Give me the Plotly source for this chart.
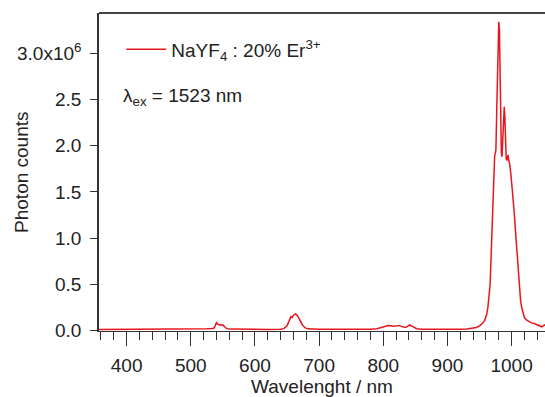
import plotly.graph_objects as go

# Emission spectrum of NaYF4 : 20% Er3+ under 1523 nm excitation
wavelength_nm = [
    355, 380, 400, 420, 450, 480, 500, 515, 525, 532, 536, 538, 540, 542, 544,
    546, 548, 550, 552, 555, 560, 580, 620, 640, 645, 650, 654, 656, 658, 660,
    663, 665, 668, 671, 674, 678, 682, 700, 750, 780, 790, 797, 803, 808, 812,
    817, 821, 825, 829, 834, 838, 841, 844, 848, 852, 860, 880, 900, 920, 930,
    940, 945, 950, 955, 958, 961, 963, 965, 966.5, 967.5, 968.5, 969.5, 970.5,
    971.5, 972.5, 973.5, 974.5, 975.5, 977, 978.5, 980, 981, 982, 983, 984, 985,
    986, 987.5, 988.5, 989.5, 990.5, 991.5, 992.5, 993.5, 994.5, 995.5, 997,
    999, 1000.5, 1002, 1004, 1006, 1008, 1010, 1012, 1014, 1016, 1018, 1020,
    1023, 1026, 1030, 1035, 1040, 1044, 1047, 1049, 1051, 1053,
]
photon_counts_1e6 = [
    0.010, 0.011, 0.010, 0.011, 0.010, 0.011, 0.012, 0.014, 0.018, 0.022,
    0.025, 0.050, 0.085, 0.070, 0.060, 0.065, 0.055, 0.060, 0.045, 0.025,
    0.015, 0.012, 0.012, 0.014, 0.020, 0.050, 0.110, 0.150, 0.140, 0.165,
    0.180, 0.170, 0.140, 0.100, 0.060, 0.030, 0.018, 0.013, 0.012, 0.014,
    0.020, 0.035, 0.050, 0.055, 0.052, 0.045, 0.050, 0.055, 0.042, 0.032,
    0.045, 0.060, 0.050, 0.030, 0.020, 0.014, 0.012, 0.012, 0.014, 0.017,
    0.025, 0.032, 0.050, 0.080, 0.110, 0.170, 0.250, 0.360, 0.500, 0.700,
    0.920, 1.150, 1.380, 1.580, 1.750, 1.880, 1.920, 1.950, 2.450, 3.000,
    3.340, 3.250, 2.700, 2.200, 1.920, 1.880, 2.050, 2.350, 2.420, 2.300,
    2.000, 1.860, 1.840, 1.880, 1.900, 1.840, 1.800, 1.680, 1.580, 1.450,
    1.280, 1.080, 0.880, 0.660, 0.460, 0.320, 0.240, 0.180, 0.140, 0.115,
    0.100, 0.085, 0.075, 0.060, 0.045, 0.040, 0.050, 0.060, 0.050,
]
photon_counts = [v * 1e6 for v in photon_counts_1e6]

y_tick_values = [0.0, 0.5e6, 1.0e6, 1.5e6, 2.0e6, 2.5e6, 3.0e6]
y_tick_labels = ["0.0", "0.5", "1.0", "1.5", "2.0", "2.5", "3.0x10<sup>6</sup>"]
x_tick_values = [400, 500, 600, 700, 800, 900, 1000]

FONT = "Liberation Sans, Arial, sans-serif"
AXIS = "#333333"
FS = 19

fig = go.Figure()
fig.add_trace(go.Scatter(
    x=wavelength_nm, y=photon_counts, mode="lines",
    line=dict(color="#e8161c", width=1.5),
    name="NaYF<sub>4</sub> : 20% Er<sup>3+</sup>",
))

fig.update_layout(
    width=545, height=397,
    margin=dict(l=99, r=0, t=13, b=66),
    paper_bgcolor="white", plot_bgcolor="white",
    font=dict(family=FONT, size=FS, color="#222222"),
    showlegend=True,
    legend=dict(x=0.05, y=0.945, xanchor="left", yanchor="top",
                itemwidth=40, bgcolor="rgba(0,0,0,0)", font=dict(size=FS)),
    xaxis=dict(
        range=[357, 1052], showgrid=False, zeroline=False,
        showline=True, linecolor=AXIS, linewidth=1,
        tickvals=x_tick_values, ticks="outside", ticklen=14, tickwidth=1.2,
        tickcolor=AXIS, ticklabelstandoff=3,
        minor=dict(dtick=20, tick0=0, ticks="outside", ticklen=8,
                   tickwidth=1.2, tickcolor=AXIS),
        title=dict(text="Wavelenght / nm", standoff=2, font=dict(size=FS)),
    ),
    yaxis=dict(
        range=[-0.0054e6, 3.436e6], showgrid=False, zeroline=False,
        showline=True, linecolor=AXIS, linewidth=1.5,
        tickvals=y_tick_values, ticktext=y_tick_labels,
        ticks="outside", ticklen=7, tickwidth=1.2, tickcolor=AXIS,
        ticklabelstandoff=5,
    ),
    shapes=[dict(type="line", xref="paper", yref="paper", x0=0, x1=1,
                 y0=1, y1=1, line=dict(color="#444444", width=2))],
    annotations=[
        dict(text="Photon counts", textangle=-90, xref="paper", yref="paper",
             x=-0.175, y=0.5, showarrow=False, xanchor="center",
             yanchor="middle", font=dict(size=FS)),
        dict(text="λ<sub>ex</sub> = 1523 nm", xref="paper", yref="paper",
             x=0.05, y=0.735, xanchor="left", yanchor="middle",
             showarrow=False, font=dict(size=FS)),
    ],
)

fig.write_html("out.html")
